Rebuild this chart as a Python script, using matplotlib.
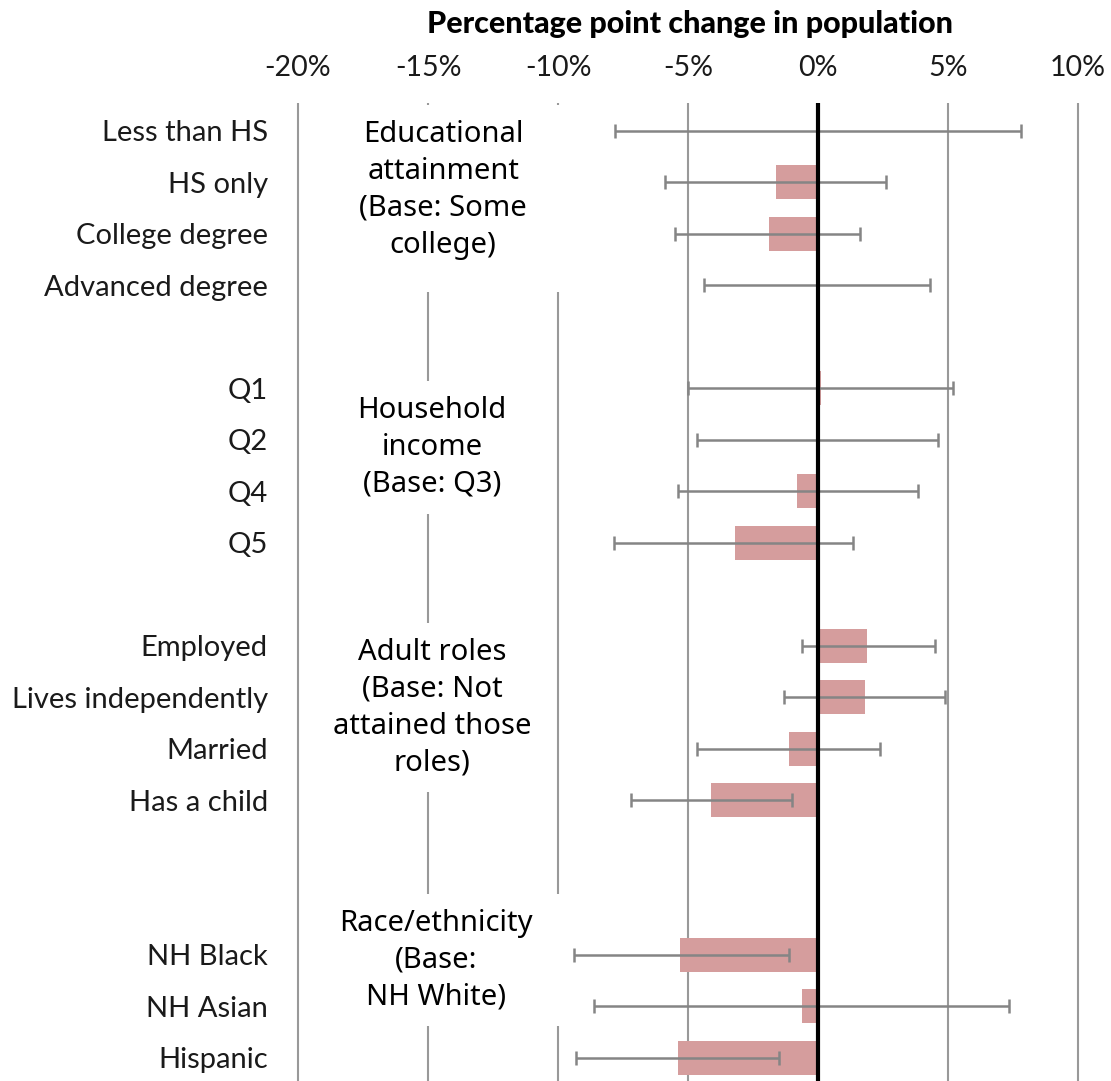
import numpy as np
import matplotlib.pyplot as plt
from matplotlib.patches import Rectangle
from matplotlib.transforms import IdentityTransform

# Row labels and their slots on the y axis (blank slots separate the groups)
labels = ['Less than HS', 'HS only', 'College degree', 'Advanced degree',
          'Q1', 'Q2', 'Q4', 'Q5',
          'Employed', 'Lives independently', 'Married', 'Has a child',
          'NH Black', 'NH Asian', 'Hispanic']
rows = [0, 1, 2, 3, 5, 6, 7, 8, 10, 11, 12, 13, 16, 17, 18]

# Point estimates and 95% CI (percentage points)
change = [0.0, -1.6, -1.9, 0.0, 0.1, 0.0, -0.8, -3.2,
          1.9, 1.8, -1.1, -4.1, -5.3, -0.6, -5.4]
ci_low = [-7.8, -5.9, -5.5, -4.4, -5.0, -4.65, -5.4, -7.85,
          -0.6, -1.3, -4.65, -7.2, -9.4, -8.6, -9.3]
ci_high = [7.8, 2.6, 1.6, 4.3, 5.2, 4.6, 3.85, 1.35,
           4.5, 4.9, 2.4, -1.0, -1.1, 7.35, -1.5]

group_labels = ['Educational\nattainment\n(Base: Some\ncollege)',
                'Household\nincome\n(Base: Q3)',
                'Adult roles\n(Base: Not\nattained those\nroles)',
                'Race/ethnicity\n(Base:\nNH White)']
group_rows = [1.15, 6.15, 11.2, 16.1]
group_x = [-14.42, -14.85, -14.85, -14.7]
# white box padding around each group label (px): left/right, top, bottom
box_pad = [(40, 15, 32), (25, 15, 15), (14, 15, 15), (30, 15, 15)]

x_ticks = [-20, -15, -10, -5, 0, 5, 10]

W, H = 1111, 1081
fig = plt.figure(figsize=(W / 100, H / 100), dpi=100)
ax = fig.add_axes([290 / W, 0, 800 / W, (H - 103) / H])

# grid lines
grid_x = [v for v in x_ticks if v != 0]
ax.vlines(grid_x, -1, 20, color='#999999', lw=1.5, zorder=1)
ax.axvline(0, color='black', lw=3, zorder=4)

change = np.array(change)
xerr = [change - np.array(ci_low), np.array(ci_high) - change]
ax.barh(rows, change, height=0.66, color='#d59d9d', zorder=2)
ax.errorbar(change, rows, xerr=xerr, fmt='none', ecolor='#858585',
            elinewidth=1.8, capsize=5, capthick=1.8, zorder=3)

ax.set_xlim(-20.31, 10.46)
ax.set_ylim(18.45, -0.54)
ax.set_autoscale_on(False)

ax.xaxis.tick_top()
ax.set_xticks(x_ticks, [f'{v}%' for v in x_ticks])
ax.tick_params(axis='x', length=0, pad=15.5, labelsize=20.5, colors='#1a1a1a')
for t in ax.get_xticklabels():
    t.set_family('Lato')
ax.xaxis.set_label_position('top')
ax.set_xlabel('Percentage point change in population', family='Lato',
              fontweight='black', fontsize=22, labelpad=16)

ax.set_yticks(rows, labels)
ax.tick_params(axis='y', length=0, pad=16, labelsize=21, colors='#1a1a1a')
for t in ax.get_yticklabels():
    t.set_family('Lato')

for spine in ax.spines.values():
    spine.set_visible(False)

texts = []
for lab, gx, r in zip(group_labels, group_x, group_rows):
    texts.append(ax.text(gx, r, lab, ha='center', va='center',
                         family='Noto Sans', fontsize=21, linespacing=1.36,
                         zorder=3))

# white boxes behind the group labels, hiding the grid lines
fig.canvas.draw()
for t, (px, pt, pb) in zip(texts, box_pad):
    bb = t.get_window_extent()
    ax.add_patch(Rectangle((bb.x0 - px, bb.y0 - pb), bb.width + 2 * px, bb.height + pt + pb,
                           transform=IdentityTransform(), facecolor='white',
                           edgecolor='none', zorder=1.5))

fig.savefig('out.png', dpi=100)
